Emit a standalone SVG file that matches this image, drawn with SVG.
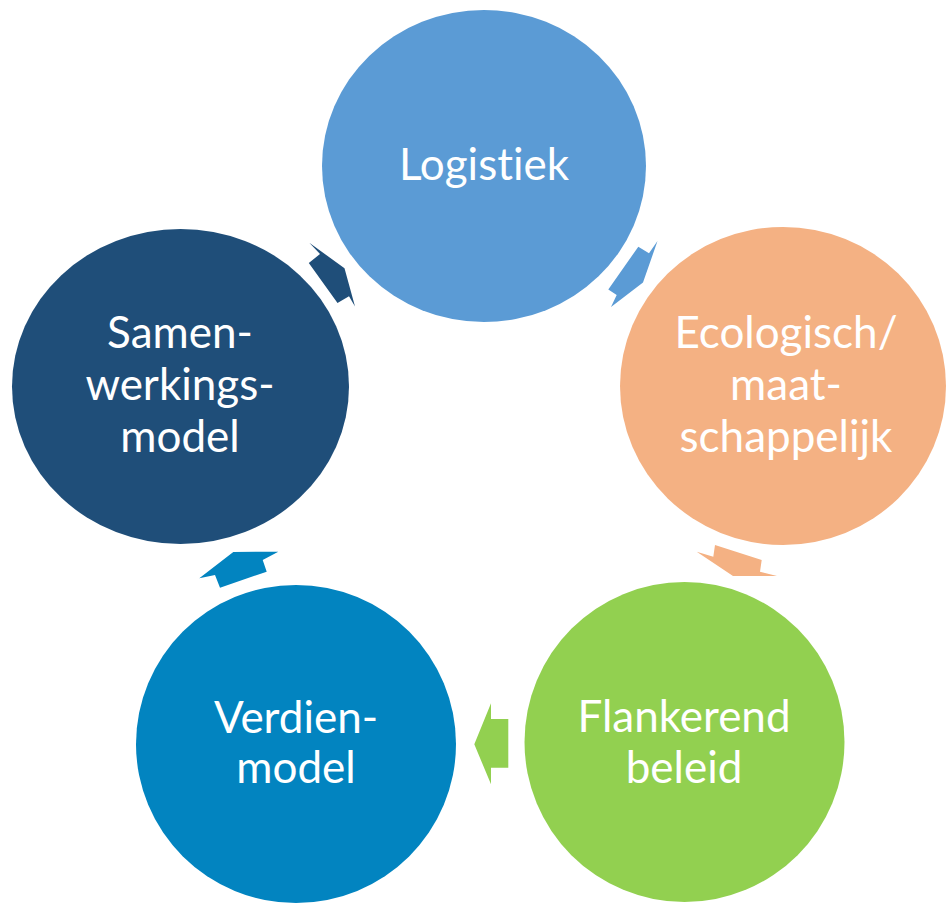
<svg xmlns="http://www.w3.org/2000/svg" width="946" height="903" viewBox="0 0 946 903">
<style>
text{font-family:Lato,"Open Sans","Liberation Sans",sans-serif;font-size:44px;fill:#fff;text-anchor:middle;font-variant-ligatures:none;font-feature-settings:"liga" 0,"clig" 0,"dlig" 0}
</style>
<rect width="946" height="903" fill="#fff"/>
<g id="connectors">
<polygon fill="#1F4E79" points="309.3,242.7 320,254 308.8,263 337.5,303 349,296.3 355,306.5 344.5,268.3"/>
<polygon fill="#5B9BD5" points="657.5,241 649,253.3 638.3,246.7 608.3,289.5 616.7,295 611,307 643,282.5"/>
<polygon fill="#F4B183" points="696.7,551.7 713.3,556.7 715,545 761.7,560 760,571.7 777,576 733,576"/>
<polygon fill="#92D050" points="491,703.3 491,719 508.3,719 508.3,767.7 491,767.7 491,784.3 474.3,744.3"/>
<polygon fill="#0284C0" points="199.3,578.3 233.3,552 278.3,551.7 262.7,560 266.7,571.7 220,587.7 215,575"/>
</g>
<g id="logistiek">
<ellipse cx="484" cy="166" rx="162" ry="156" fill="#5B9BD5"/>
<text x="484" y="180">Logistiek</text>
</g>
<g id="ecologisch">
<ellipse cx="783" cy="386" rx="163" ry="159" fill="#F4B183"/>
<text x="786" y="348">Ecologisch/</text>
<text x="786" y="400">maat-</text>
<text x="786" y="452">schappelijk</text>
</g>
<g id="flankerend">
<ellipse cx="684.5" cy="742" rx="160" ry="160" fill="#92D050"/>
<text x="684" y="732">Flankerend</text>
<text x="684" y="783">beleid</text>
</g>
<g id="verdien">
<ellipse cx="296" cy="744" rx="160" ry="159" fill="#0284C0"/>
<text x="296" y="733">Verdien-</text>
<text x="296" y="783">model</text>
</g>
<g id="samenwerking">
<ellipse cx="180.5" cy="386.5" rx="168.5" ry="157.5" fill="#1F4E79"/>
<text x="180" y="348">Samen-</text>
<text x="180" y="400">werkings-</text>
<text x="180" y="452">model</text>
</g>
</svg>
